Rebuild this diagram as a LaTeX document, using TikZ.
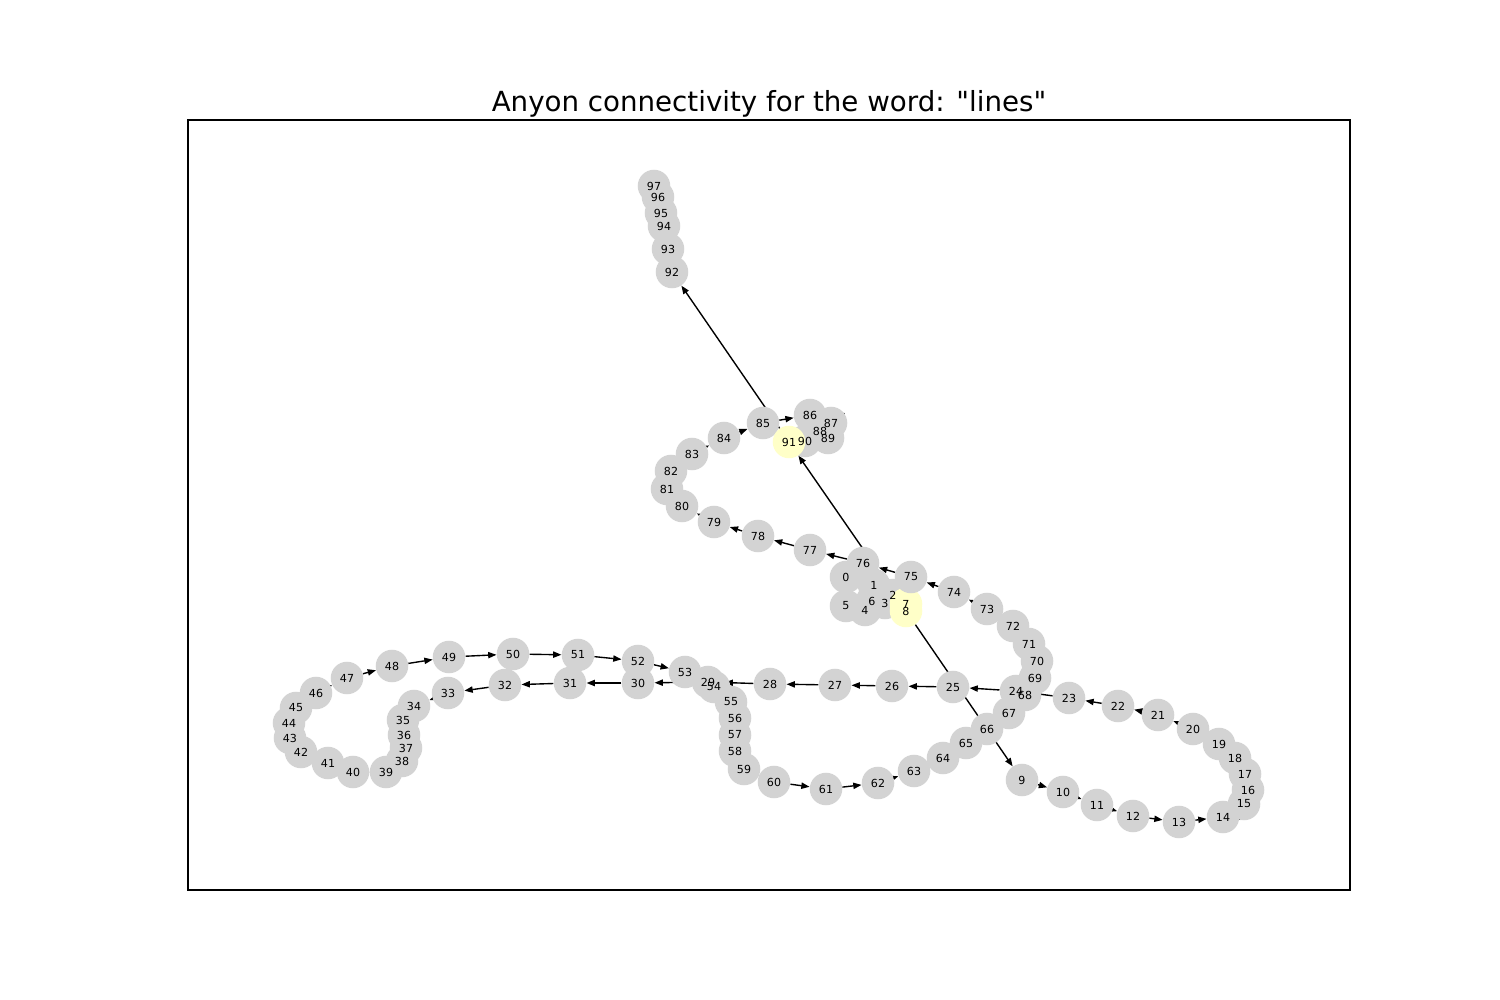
\documentclass[tikz,border=0pt]{standalone}
\usepackage{fontspec}
\setmainfont{DejaVu Sans}[Ligatures=TeXOff]
\usetikzlibrary{arrows.meta}
\definecolor{nodegray}{HTML}{D3D3D3}
\definecolor{nodeyellow}{HTML}{FFFFC8}
\pgfdeclarelayer{bg}
\pgfdeclarelayer{edges}
\pgfsetlayers{bg,edges,main}
\tikzset{
  anyon/.style={circle, fill=nodegray, draw=none, inner sep=0pt, minimum size=23.5pt},
  marked/.style={anyon, fill=nodeyellow},
  numlabel/.style={inner sep=0pt, font=\fontsize{8}{8}\selectfont, text=black},
  link/.style={draw=black, line width=1pt, -{Triangle[length=6pt,width=4.5pt]}},
  frame/.style={draw=black, line width=0.8pt},
}
\begin{document}
\begin{tikzpicture}[x=0.01in, y=-0.01in]
\begin{pgfonlayer}{bg}
  \fill[white] (0,0) rectangle (1500,1000);
\end{pgfonlayer}
\useasboundingbox (0,0) rectangle (1500,1000);
\node[anchor=base, inner sep=0pt, font=\fontsize{20}{20}\selectfont] (title) at (769,112) {Anyon connectivity for the word: "lines"};
\coordinate (fa) at (188,120);
\coordinate (fb) at (1350,890);
\draw[frame] (fa) rectangle (fb);
% circles (drawn in index order)
\foreach \i/\x/\y in {
0/846/577, 1/874/585, 2/893/595, 3/885/603, 4/865/610, 5/846/606, 6/872/601,
9/1022/780, 10/1063/792, 11/1097/805, 12/1133/816, 13/1179/822, 14/1223/817,
15/1244/804, 16/1248/790, 17/1245/774, 18/1235/758, 19/1219/744, 20/1193/729,
21/1158/715, 22/1118/706, 23/1069/698, 24/1016/691, 25/953/687, 26/892/686,
27/835/685, 28/770/684, 29/708/682, 30/638/683, 31/570/683, 32/505/685,
33/448/693, 34/414/706, 35/403/720, 36/404/735, 37/406/748, 38/402/761,
39/386/772, 40/353/772, 41/328/763, 42/301/752, 43/290/738, 44/289/723,
45/296/708, 46/316/693, 47/347/678, 48/392/666, 49/449/657, 50/513/654,
51/578/655, 52/638/661, 53/685/672, 54/714/687, 55/731/702, 56/735/718,
57/735/735, 58/735/751, 59/744/769, 60/774/782, 61/826/789, 62/878/783,
63/914/771, 64/943/758, 65/966/743, 66/987/729, 67/1009/713, 68/1025/695,
69/1035/678, 70/1037/661, 71/1029/644, 72/1013/626, 73/987/609, 74/954/592,
75/911/577, 76/863/563, 77/810/550, 78/758/536, 79/714/522, 80/682/506,
81/667/489, 82/671/471, 83/692/454, 84/724/438, 85/763/423, 86/810/415,
87/831/423, 88/820/431, 89/828/438, 90/805/441,
92/672/272, 93/668/249, 94/664/226, 95/661/213, 96/658/197, 97/654/186}
{
  \ifnum\i=9
    \node[marked] (n7) at (906,604) {};
    \node[marked] (n8) at (906,611) {};
  \fi
  \node[anyon] (n\i) at (\x,\y) {};
  \ifnum\i=90
    \node[marked] (n91) at (789,442) {};
  \fi
}
% labels on top of all circles
\foreach \i in {0,...,97} {
  \node[numlabel] (l\i) at (n\i) {\i};
}
% connectors behind the circles
\begin{pgfonlayer}{edges}
\foreach \i [evaluate=\i as \j using int(\i+1)] in {0,...,96} {
  \draw[link] (n\i) -- (n\j);
}
\draw[link] (n8) -- (n91);
\end{pgfonlayer}
\end{tikzpicture}
\end{document}
